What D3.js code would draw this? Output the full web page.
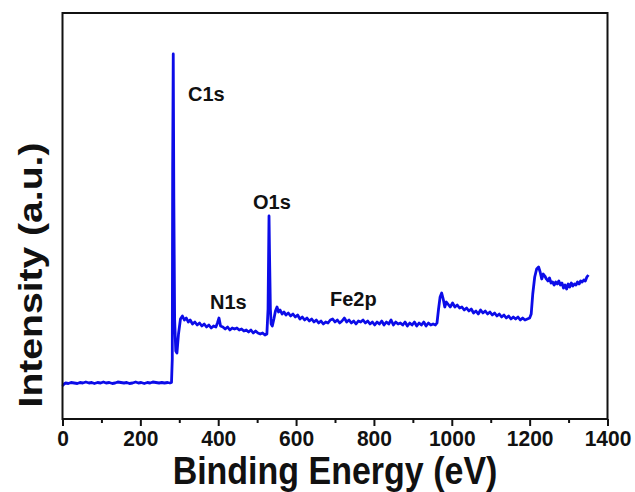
<!DOCTYPE html>
<meta charset="utf-8">
<body style="margin:0;background:#fff">
<script src="https://d3js.org/d3.v7.min.js"></script>
<div id="chart"></div>
<script>

// XPS survey spectrum (binding energy in eV, intensity in a.u.)
var energy = [0,4,8,15,22,30,38,45,52,60,68,75,82,90,98,105,112,120,128,135,142,150,158,165,172,180,188,195,202,210,218,225,232,240,248,255,262,270,276,280,
  282,283,284.5,286,288,291,294,298,303,308,313,318,323,328,334,340,346,352,358,364,370,376,382,388,394,398,402,406,412,418,424,430,436,442,448,454,460,466,472,478,484,490,496,502,508,514,520,525,
  528,530.5,532,534,536,539,543,547,551,555,559,564,569,574,580,586,592,598,604,610,616,622,628,634,640,646,652,658,664,670,676,682,688,694,700,706,712,718,724,730,736,742,748,754,760,766,772,778,784,790,796,802,808,814,820,826,832,838,844,850,856,862,868,874,880,886,892,898,904,910,916,922,928,934,940,946,952,958,
  962,966,970,974,978,982,986,990,996,1002,1008,1014,1020,1026,1032,1038,1044,1050,1056,1062,1068,1074,1080,1086,1092,1098,1104,1110,1116,1122,1128,1134,1140,1146,1152,1158,1164,1170,1176,1182,1188,1194,1200,
  1204,1208,1213,1218,1223,1227,1231,1235,1239,1243,1247,1251,1255,1259,1263,1267,1271,1275,1279,1283,1287,1291,1295,1299,1303,1307,1311,1315,1319,1323,1327,1331,1335,1339,1343,1347,1351];

var intensity = [33,35,36,35.5,36.5,36,35.5,36.5,36,37,36,36.5,35.5,36.5,36,37,36,36.5,35.5,36,37,36.5,36,36.5,35.5,36,37,36,36.5,35.5,36.5,36,37,36.5,36,36.5,36,36.5,36,36.5,
  60,250,365,220,100,68,66,85,100,103,99,101,97,99,95,97,94,96,93,95,92,94,91,93,92,96,101,93,92,90,92,89,91,90,91,89,90,88,89,87,89,86,88,86,85,86,84,85,
  110,203,160,110,95,93,100,108,112,107,109,105,107,104,106,103,105,102,104,100,102,99,101,98,100,97,99,96,98,95,97,96,99,100,97,99,96,98,101,97,99,96,98,95,98,97,99,96,98,95,97,94,97,95,98,94,97,95,99,94,97,95,96,94,97,93,96,94,97,93,96,94,97,93,96,94,95,94,
  96,110,122,126,120,112,117,115,112,116,112,114,111,112,109,111,108,110,106,108,105,109,106,108,105,107,104,106,103,105,102,104,101,103,100,102,100,102,99,101,99,100,101,
  105,125,142,150,152,147,140,145,143,140,138,141,136,137,134,137,135,138,134,136,131,134,130,135,132,136,133,135,134,137,135,138,137,139,138,142,144];

// peak labels and where they sit
var peakLabels = ["C1s", "O1s", "N1s", "Fe2p"];
var peakLabelX = [188, 253, 210, 330];
var peakLabelY = [101, 209, 309, 306];

var majorTicks = [0, 200, 400, 600, 800, 1000, 1200, 1400];
var minorTicks = [100, 300, 500, 700, 900, 1100, 1300];

var width = 635, height = 492;
var margin = {top: 13, right: 27.5, bottom: 73, left: 62.5};
var plotW = width - margin.left - margin.right,
    plotH = height - margin.top - margin.bottom;

var font = "'Liberation Sans', Arial, sans-serif";

var x = d3.scaleLinear().domain([0, 1400]).range([0, plotW]);
var y = d3.scaleLinear().domain([0, 406]).range([plotH, 0]);

var svg = d3.select("#chart")
  .append("svg")
    .attr("width", width)
    .attr("height", height)
  .append("g")
    .attr("transform", "translate(" + margin.left + "," + margin.top + ")");

// spectrum line
var pts = energy.map(function(e, i) { return [e, intensity[i]]; });
svg.append("path")
    .datum(pts)
    .attr("fill", "none")
    .attr("stroke", "#0c0ce8")
    .attr("stroke-width", 2.8)
    .attr("stroke-linejoin", "round")
    .attr("d", d3.line()
      .x(function(d) { return x(d[0]); })
      .y(function(d) { return y(d[1]); }));

// frame
svg.append("rect")
    .attr("x", 0).attr("y", 0)
    .attr("width", plotW).attr("height", plotH)
    .attr("fill", "none")
    .attr("stroke", "#111")
    .attr("stroke-width", 2);

// bottom axis, major + minor ticks
var xAxis = svg.append("g")
    .attr("transform", "translate(0," + plotH + ")")
    .call(d3.axisBottom(x).tickValues(majorTicks).tickFormat(d3.format("d")).tickSize(7).tickSizeOuter(0));
xAxis.select(".domain").remove();
xAxis.selectAll("line").attr("stroke", "#111").attr("stroke-width", 2);
// the picture's lettering is a bit taller than wide, so stretch it slightly
xAxis.selectAll("text")
    .attr("y", 0)
    .attr("dy", "0.71em")
    .attr("transform", "translate(0,11) scale(1,1.08)")
    .attr("fill", "#111")
    .style("font-family", font)
    .style("font-weight", "bold")
    .style("font-size", "21px");

var xMinor = svg.append("g")
    .attr("transform", "translate(0," + plotH + ")")
    .call(d3.axisBottom(x).tickValues(minorTicks).tickSize(4).tickFormat(""));
xMinor.select(".domain").remove();
xMinor.selectAll("line").attr("stroke", "#111").attr("stroke-width", 2);

// axis titles
svg.append("text")
    .attr("text-anchor", "middle")
    .attr("transform", "translate(" + (plotW / 2) + "," + (484 - margin.top) + ") scale(1,1.12)")
    .style("font-family", font)
    .style("font-weight", "bold")
    .style("font-size", "34px")
    .attr("fill", "#111")
    .text("Binding Energy (eV)");

svg.append("text")
    .attr("text-anchor", "middle")
    .attr("transform", "translate(" + (42 - margin.left) + "," + (275 - margin.top) + ") rotate(-90) scale(1.15,1)")
    .style("font-family", font)
    .style("font-weight", "bold")
    .style("font-size", "34px")
    .attr("fill", "#111")
    .text("Intensity (a.u.)");

// peak annotations
svg.selectAll(".peak")
    .data(peakLabels)
    .enter()
    .append("text")
    .attr("class", "peak")
    .attr("x", function(d, i) { return peakLabelX[i] - margin.left; })
    .attr("y", function(d, i) { return peakLabelY[i] - margin.top; })
    .style("font-family", font)
    .style("font-weight", "bold")
    .style("font-size", "20px")
    .attr("fill", "#111")
    .text(function(d) { return d; });

</script>
</body>
